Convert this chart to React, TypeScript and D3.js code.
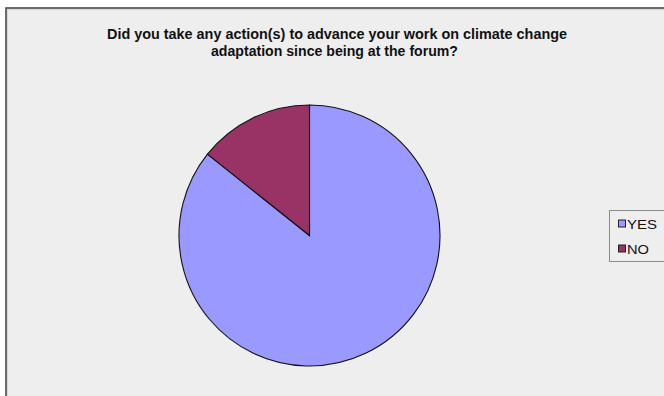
import React from "react";
import * as d3 from "d3";

const categories = ["YES", "NO"];
const counts = [6, 1];
const colors = ["#9999ff", "#993366"];
const titleLines = [
  "Did you take any action(s) to advance your work on climate change",
  "adaptation since being at the forum?",
];

const W = 664;
const H = 396;
const cx = 309.5;
const cy = 235.5;
const radius = 130.5;

export default function App() {
  const data = categories.map((c, i) => ({ label: c, value: counts[i], color: colors[i] }));
  const pie = d3.pie<any>().sort(null).value((d) => d.value);
  const arc = d3.arc<any>().innerRadius(0).outerRadius(radius);
  const arcs = pie(data);

  const legendY = d3.scalePoint<string>().domain(categories).range([223.5, 248.5]);
  const legendWidths = [30, 22];

  return (
    <svg
      width={W}
      height={H}
      style={{ position: "absolute", left: 0, top: 0, display: "block" }}
      fontFamily="'Liberation Sans', Arial, sans-serif"
    >
      <rect x={0} y={0} width={W} height={H} fill="#ffffff" />
      {/* chart area frame */}
      <rect x={6} y={8} width={W} height={H} fill="#eeeeee" stroke="#4a4a4a" strokeWidth={1.6} />
      <line x1={7.5} y1={9.5} x2={W} y2={9.5} stroke="#d8d8d8" strokeWidth={1} />
      <line x1={7.5} y1={9.5} x2={7.5} y2={H} stroke="#d8d8d8" strokeWidth={1} />

      {/* title */}
      <text x={337} y={38.5} textAnchor="middle" fontSize={14.5} fontWeight="bold" fill="#111"
        textLength={460} lengthAdjust="spacingAndGlyphs">
        {titleLines[0]}
      </text>
      <text x={334.5} y={55.5} textAnchor="middle" fontSize={14.5} fontWeight="bold" fill="#111"
        textLength={247} lengthAdjust="spacingAndGlyphs">
        {titleLines[1]}
      </text>

      {/* pie */}
      <g transform={`translate(${cx},${cy})`}>
        {arcs.map((a, i) => (
          <path key={i} d={arc(a) as string} fill={a.data.color} stroke="#111" strokeWidth={1.1} strokeLinejoin="miter" />
        ))}
      </g>

      {/* legend */}
      <rect x={609.5} y={210.5} width={60} height={51} fill="#eeeeee" stroke="#8a8a8a" strokeWidth={1} />
      {data.map((d, i) => {
        const y = legendY(d.label)!;
        return (
          <g key={d.label}>
            <rect x={618.5} y={y - 3.5} width={7} height={7} fill={d.color} stroke="#222" strokeWidth={1} />
            <text x={627} y={y + 5} fontSize={13} fill="#111"
              textLength={legendWidths[i]} lengthAdjust="spacingAndGlyphs">
              {d.label}
            </text>
          </g>
        );
      })}
    </svg>
  );
}
